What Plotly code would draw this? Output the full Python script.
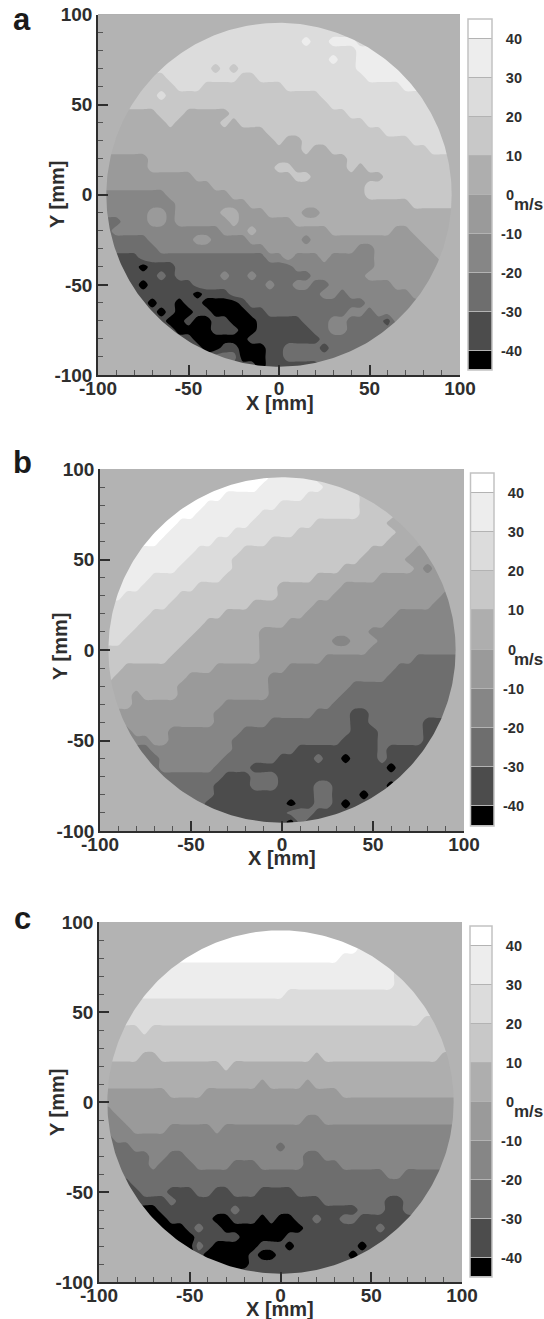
import numpy as np
import plotly.graph_objects as go

W, H = 544, 1319
x_mm = list(range(-100, 105, 5))
y_mm = list(range(100, -105, -5))
major_ticks = [-100, -50, 0, 50, 100]
major_text = ["-100", "-50", "0", "50", "100"]
bar_edges = [-45, -40, -30, -20, -10, 0, 10, 20, 30, 40, 45]
bar_values = [-45, -35, -25, -15, -5, 5, 15, 25, 35, 45]
bar_ticks = [-40, -30, -20, -10, 0, 10, 20, 30, 40]
bar_text = ["-40", "-30", "-20", "-10", "0\u00a0\u00a0", "10", "20", "30", "40"]
band_greys = ["#000000", "#4c4c4c", "#6e6e6e", "#868686", "#9a9a9a",
              "#aeaeae", "#c8c8c8", "#dcdcdc", "#ededed", "#ffffff"]
outside_grey = "#b3b3b3"
radius_mm = 95.4

# band digit d = velocity band from (-50+10d) to (-40+10d) m/s; rows y=100..-100, columns x=-100..100
panel_a = """
77777 77777 77777 77777 77777 77777 77777 77777 7
77777 77777 77777 77777 77777 77777 77777 77777 7
77777 77777 77777 77777 77777 77777 77777 77777 7
77777 77777 77777 77777 77787 78887 77777 77777 7
77777 77777 77777 77777 77777 77778 88777 77777 7
77777 77777 77777 77777 77777 78778 88877 77777 7
77777 77777 77767 67777 77777 77778 88887 77777 7
66666 66677 77777 76677 77777 77777 88888 88888 8
66666 66667 77666 66666 67777 77777 77778 88888 8
66666 66766 66666 66666 66666 77777 77777 77777 7
66666 66666 66666 66666 66666 67777 77777 77777 7
55555 55666 55555 66666 66666 66677 77777 77777 7
55555 55565 55556 56666 66666 66666 77777 77777 7
55555 55555 55555 55556 66666 66666 66777 77777 7
55555 55555 55555 55555 65566 66666 66666 77777 7
55555 55555 55555 55555 55565 56666 66666 66777 7
44444 45555 55555 55555 55555 55566 66666 66666 6
44444 45555 55555 55555 66555 55565 66666 66666 6
44444 44444 45555 55555 55665 55555 55666 66666 6
44444 44444 44455 55555 55555 55555 66666 66666 6
33333 33344 44444 55555 55555 55555 66666 66666 6
33333 33334 44444 44555 55555 55555 55555 66666 6
33333 34434 44445 54445 55544 55555 55555 55555 5
22233 34434 44444 54444 44555 55555 55555 55555 5
22333 33333 33334 44544 44444 45555 55544 55555 5
22222 23333 34433 33444 44434 44444 44444 45555 5
22222 22333 33333 33334 44444 44443 34444 44555 5
11111 22222 22222 22223 34333 43333 34444 44455 5
11111 01112 22222 22222 22333 33333 34444 44444 4
11111 11212 22223 22322 22223 33333 44444 44444 4
11111 01111 12222 22223 22332 23333 33344 44444 4
11111 11111 10111 22222 22222 33233 33333 44444 4
11111 10110 11000 01222 22222 22222 33333 33333 3
11111 11010 01100 00112 22222 22233 23333 33333 3
11111 11100 10011 00011 11122 23322 22133 33333 3
11111 11110 00011 10011 11112 23322 22222 22222 2
11111 11111 10000 00111 11111 22222 22222 22222 2
11111 11111 11001 10001 12222 12222 22222 22222 2
11111 11111 11122 20001 12222 22222 22222 22222 2
11111 11111 11111 11101 11111 22222 22222 22222 2
11111 11111 11111 11111 11111 22222 22222 22222 2
"""

panel_b = """
99999 99999 99999 99998 88887 77766 66555 55555 5
99999 99999 99999 99998 88887 77766 66555 55555 5
99999 99999 99999 99988 88888 77766 66555 55555 5
99999 99999 99998 88888 88877 77776 66555 55555 5
99999 99999 99888 88888 77777 77776 66555 55555 5
99999 99999 98888 88877 77777 77776 66655 55555 5
99999 99998 88888 88777 77776 66666 66555 55555 5
99999 99988 88888 77777 77666 66666 66655 55555 5
99999 99888 88877 77776 66666 66666 66555 55555 5
88888 88888 87777 76666 66666 66666 55555 44444 4
88888 88888 77777 66666 66666 66665 55554 44444 4
88888 88887 77777 66666 66666 66555 55555 43444 4
88888 87777 77776 66666 66665 55555 54444 44444 4
88888 77777 76666 66666 55555 55444 44444 44444 4
88877 77776 66666 66666 55555 54444 44444 44433 3
77777 77766 66666 66555 55554 44444 44444 44333 3
77777 76666 66665 55555 55544 44444 44433 33333 3
77777 66666 66555 55555 54444 44444 44333 33333 3
77776 66666 65555 55544 44444 44444 33333 33333 3
77766 66666 55555 55544 44444 43344 43333 33333 3
66666 66665 55555 55544 44444 44444 33333 33333 3
66666 66655 55555 55544 44444 33333 33333 22222 2
66655 55555 55544 44444 43333 33333 33322 22222 2
66555 55555 44444 44443 33333 33333 33222 22222 2
55555 55554 44444 44443 33333 33322 22222 22222 2
55554 55554 44444 44443 33333 33222 22222 22222 2
55554 44444 44443 33333 33333 32222 22222 22222 2
44444 44444 44433 33333 33332 22211 22222 22222 2
33344 44444 44433 33332 22222 22211 22222 21111 1
33334 44433 33333 32222 22222 22211 12222 21111 1
33333 34433 33333 22222 22222 22111 12222 21111 1
22222 23333 33333 22222 22111 11111 12111 11111 1
22222 22333 33332 22222 11112 11011 12111 11111 1
22222 22333 33322 22111 11111 11111 11011 11111 1
22222 22222 22221 11222 11111 11111 11111 11111 1
22222 22222 22211 11222 11112 21111 11011 11111 1
22222 22222 22211 11111 11112 21110 11111 11111 1
22222 22222 22111 11111 10112 21011 11111 11111 1
22222 22222 22111 11111 12221 11111 11111 11111 1
22222 22222 22211 11111 10211 11111 11111 11111 1
22222 22222 22211 11111 11111 11111 11111 11111 1
"""

panel_c = """
99999 99999 99999 99999 99999 99998 88877 77777 7
99999 99999 99999 99999 99999 99998 88877 77777 7
99999 99999 99999 99999 99999 99998 88877 77777 7
99999 99999 99999 99999 99999 99998 88877 77777 7
99999 99999 99999 99999 99999 99888 88877 77777 7
88888 88888 88888 88888 88888 88888 88877 77777 7
88888 88888 88888 88888 88888 88888 88877 77777 7
88888 88888 88888 88888 88888 88888 88877 77777 7
88888 88888 88888 88888 87777 77777 77777 77777 7
77777 77777 77777 77777 77777 77777 77777 77777 7
77777 77777 77777 77777 77777 77777 77777 77777 7
77777 77777 77777 77777 77777 77777 77777 76666 6
66666 76666 66666 66666 66666 66666 66666 66666 6
66666 66666 66666 66666 66666 66666 66666 66666 6
66666 66666 66666 66666 66666 66666 66666 66666 6
66666 55666 66666 66666 66665 66666 66666 66655 5
55555 55555 55556 55555 55555 55555 55555 55555 5
55555 55555 55555 55555 55555 55555 55555 55555 5
55555 55555 55555 55545 55545 55555 55555 55555 5
44444 44455 55444 44444 44444 44555 55555 55555 5
44444 44444 44444 44444 44444 44444 44444 44444 4
33444 44444 44444 44444 44444 44444 44444 44444 4
33344 44444 44444 44444 44433 44444 44444 44444 4
33334 44433 33343 33333 33333 33333 33333 33333 3
22333 33333 33333 33333 33333 33333 33333 33333 3
22223 33333 33333 33333 23333 33333 33333 33333 3
22222 23322 33333 33333 33322 33333 33333 33333 3
22222 23222 23333 22233 33322 22333 33333 33333 3
22222 22222 22222 22222 22222 22222 22332 22222 2
11112 22222 22222 22222 22222 22222 22222 22222 2
11111 22211 12211 22211 11222 22222 22222 22222 2
11111 11121 11111 11111 11111 22222 22112 22222 2
00000 00111 11111 21111 11111 11112 22112 22222 2
00000 00011 11100 11101 00112 11221 11111 11111 1
00000 00000 12110 00000 00011 11111 12111 11111 1
00000 00000 01111 10000 01111 11111 11111 11111 1
00000 00000 02100 00011 10111 11110 11111 11111 1
00000 00000 01000 00100 11111 11101 11111 11111 1
11111 11111 11100 00111 11111 11111 11111 11111 1
11111 11111 11111 11111 11111 11111 11111 11111 1
11111 11111 11111 11111 11111 11111 11111 11111 1
"""

def to_grid(text):
    rows = [r.replace(" ", "") for r in text.strip().splitlines()]
    return [[-45 + 10 * int(c) for c in r] for r in rows]

colorscale = []
for i, g in enumerate(band_greys):
    colorscale += [[i / 10, g], [(i + 1) / 10, g]]

FONT = "Liberation Sans, Arial, sans-serif"
INK = "#2e2e2e"

def ph(p):
    return p / W

def pv(p):
    return 1 - p / H

# pixel frames: plot, bar, letter, X title centre, Y title centre
panels = [
    dict(grid=panel_a, plot=(98, 460, 14.5, 375), bar=(468, 492, 19, 370), letter=("a", 22, 20),
         xt=(280, 403), yt=(57, 195)),
    dict(grid=panel_b, plot=(100, 464, 469, 831), bar=(470.5, 494, 473, 826), letter=("b", 22, 463),
         xt=(282, 858), yt=(60, 647)),
    dict(grid=panel_c, plot=(99, 462, 922, 1282), bar=(470, 492, 926, 1277), letter=("c", 22, 919),
         xt=(280, 1309), yt=(57, 1103)),
]

theta = np.linspace(0, 2 * np.pi, 361)
hole_x = radius_mm * np.cos(theta)
hole_y = radius_mm * np.sin(theta)
# outer square traversed one way, the circle the other way, joined by a seam on y=0
mask_x = [100, 100, -100, -100, 100, 100] + list(hole_x[::-1]) + [100]
mask_y = [0, 100, 100, -100, -100, 0] + list(hole_y[::-1]) + [0]

fig = go.Figure()
layout = {}
annotations = []
shapes = []
title_font = dict(family=FONT, size=20, color=INK, weight="bold")

for k, p in enumerate(panels):
    n = 2 * k + 1
    xa, ya = ("x" if n == 1 else f"x{n}"), ("y" if n == 1 else f"y{n}")
    xb, yb = f"x{n+1}", f"y{n+1}"
    fig.add_trace(go.Contour(
        x=x_mm, y=y_mm, z=to_grid(p["grid"]), xaxis=xa, yaxis=ya,
        colorscale=colorscale, zmin=-50, zmax=50, showscale=False,
        autocontour=False, contours=dict(start=-40, end=40, size=10, coloring="fill", showlines=False),
        line=dict(width=0, smoothing=0.9), hoverinfo="skip"))
    fig.add_trace(go.Scatter(
        x=mask_x, y=mask_y, xaxis=xa, yaxis=ya, mode="lines", fill="toself",
        fillcolor=outside_grey, line=dict(width=0, color=outside_grey),
        hoverinfo="skip", showlegend=False))
    fig.add_trace(go.Heatmap(
        x=[0, 1], y=bar_edges, z=[[v] for v in bar_values], xaxis=xb, yaxis=yb,
        colorscale=colorscale, zmin=-50, zmax=50, showscale=False, ygap=1, hoverinfo="skip"))

    x0, x1, y0, y1 = p["plot"]
    common = dict(
        tickmode="array", tickvals=major_ticks, ticktext=major_text,
        ticks="inside", ticklen=10, tickwidth=1.5, tickcolor=INK,
        showline=True, linewidth=1.5, linecolor=INK, showgrid=False, zeroline=False,
        range=[-100, 100], tickfont=dict(family=FONT, size=19, color=INK, weight="bold"),
        minor=dict(tickmode="linear", tick0=0, dtick=10, ticks="inside", ticklen=5,
                   tickwidth=1, tickcolor="#555555", showgrid=False),
    )
    sx = "" if n == 1 else str(n)
    layout[f"xaxis{sx}"] = dict(common, domain=[ph(x0), ph(x1)], anchor=ya, ticklabelstandoff=-5)
    layout[f"yaxis{sx}"] = dict(common, domain=[pv(y1), pv(y0)], anchor=xa)

    annotations.append(dict(text="X [mm]", xref="paper", yref="paper", x=ph(p["xt"][0]), y=pv(p["xt"][1]),
                            xanchor="center", yanchor="middle", showarrow=False, font=title_font))
    annotations.append(dict(text="Y [mm]", xref="paper", yref="paper", x=ph(p["yt"][0]), y=pv(p["yt"][1]),
                            xanchor="center", yanchor="middle", showarrow=False, textangle=-90, font=title_font))

    bx0, bx1, by0, by1 = p["bar"]
    layout[f"xaxis{n+1}"] = dict(domain=[ph(bx0), ph(bx1)], anchor=yb, range=[0, 1], visible=False)
    layout[f"yaxis{n+1}"] = dict(
        domain=[pv(by1), pv(by0)], anchor="free", position=ph(bx1 + 30), side="left",
        range=[-45, 45], tickmode="array", tickvals=bar_ticks, ticktext=bar_text, ticks="",
        showline=False, showgrid=False, zeroline=False,
        tickfont=dict(family=FONT, size=14.5, color=INK, weight="bold"))
    shapes.append(dict(type="rect", xref=f"{xb} domain", yref=f"{yb} domain", x0=0, x1=1, y0=0, y1=1,
                       line=dict(color="#c2c2c2", width=1.5), fillcolor="rgba(0,0,0,0)"))
    annotations.append(dict(text="<b>m/s</b>", xref="paper", yref=yb, x=ph(528), y=0, yshift=-10,
                            xanchor="center", yanchor="middle", showarrow=False,
                            font=dict(family=FONT, size=17, color=INK)))
    letter, lx, ly = p["letter"]
    annotations.append(dict(text=f"<b>{letter}</b>", xref="paper", yref="paper", x=ph(lx), y=pv(ly),
                            xanchor="center", yanchor="middle", showarrow=False,
                            font=dict(family=FONT, size=31, color="#1a1a1a")))

fig.update_layout(
    width=W, height=H, autosize=False,
    margin=dict(l=0, r=0, t=0, b=0, pad=0, autoexpand=False),
    paper_bgcolor="white", plot_bgcolor=outside_grey, showlegend=False,
    annotations=annotations, shapes=shapes, **layout)

fig.write_html("out.html", post_script="document.body.style.margin='0';",
               config={"displayModeBar": False})
